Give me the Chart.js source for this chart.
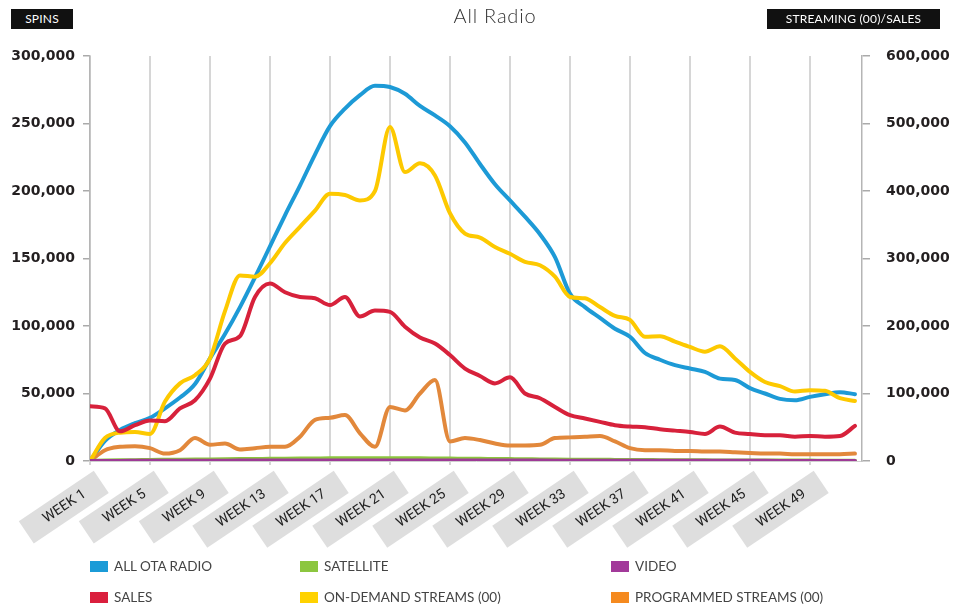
<!DOCTYPE html>
<html>
<head>
<meta charset="utf-8">
<script src="https://cdn.jsdelivr.net/npm/chart.js@4"></script>
<style>
  body { margin: 0; background: #fff; }
  #wrap { position: relative; width: 953px; height: 607px; font-family: Lato, "Open Sans", sans-serif; }
  #chart { position: absolute; left: 0; top: 0; }
  .tag { position: absolute; top: 9px; height: 20px; line-height: 20px; background: #111; color: #fff;
         font-size: 12px; text-align: center; letter-spacing: 0.2px; }
  #title { position: absolute; top: 3px; left: 0; width: 990px; text-align: center; font-size: 20px;
           font-weight: 300; color: #333; letter-spacing: 0.8px; }
  .leg { position: absolute; font-size: 13.5px; color: #444; height: 14px; line-height: 14px; white-space: nowrap; }
  .leg span { display: inline-block; width: 18px; height: 11px; margin-right: 6px; vertical-align: -1px; }
</style>
</head>
<body>
<div id="wrap">
  <canvas id="chart" width="953" height="607"></canvas>
  <div class="tag" style="left:11px;width:62px;">SPINS</div>
  <div id="title">All Radio</div>
  <div class="tag" style="left:767px;width:173px;">STREAMING (00)/SALES</div>
  <div id="legend"></div>
</div>
<script>
// weeks on the x axis
const weeks = [1, 2, 3, 4, 5, 6, 7, 8, 9, 10, 11, 12, 13, 14, 15, 16, 17, 18, 19, 20, 21, 22, 23, 24, 25, 26,
  27, 28, 29, 30, 31, 32, 33, 34, 35, 36, 37, 38, 39, 40, 41, 42, 43, 44, 45, 46, 47, 48, 49, 50, 51, 52];

// spins (left axis)
const allOtaRadio = [0, 15000, 23000, 28000, 32000, 39000, 47000, 57000, 76000, 94000, 114000, 136000, 159000,
  182000, 204000, 227000, 248000, 261000, 271000, 278000, 277000, 272000, 263000, 256000, 248000, 236000,
  220000, 205000, 193000, 181000, 168000, 151000, 124000, 114000, 106000, 98000, 92000, 80000, 75000, 71000,
  68500, 66000, 61000, 60000, 54000, 50000, 46000, 45000, 47500, 49500, 51000, 49500];
const satellite = [0, 300, 500, 600, 800, 900, 1000, 1100, 1200, 1300, 1400, 1500, 1600, 1700, 1800, 1900,
  2000, 2000, 2100, 2100, 2100, 2000, 2000, 1900, 1800, 1700, 1600, 1500, 1400, 1300, 1200, 1100, 1000, 900,
  900, 800, 700, 700, 600, 600, 500, 500, 400, 400, 400, 300, 300, 300, 300, 200, 200, 200];
const video = [0, 50, 80, 100, 120, 150, 180, 200, 220, 250, 280, 300, 320, 350, 380, 400, 420, 430, 450, 450,
  450, 440, 430, 420, 400, 380, 360, 340, 320, 300, 280, 260, 240, 220, 200, 190, 180, 170, 160, 150, 140,
  130, 120, 110, 100, 100, 90, 90, 80, 80, 80, 80];

// streaming (00) / sales (right axis)
const sales = [81000, 78000, 44000, 53000, 60000, 59000, 78000, 90000, 122000, 174000, 185000, 243000, 263000,
  250000, 243000, 241000, 231000, 243000, 214000, 223000, 221000, 199000, 183000, 174000, 157000, 137000,
  126000, 115000, 124000, 100000, 93000, 80000, 68000, 63000, 58000, 53000, 51000, 50000, 47000, 45000,
  43000, 40000, 51000, 42000, 40000, 38000, 38000, 36000, 37000, 36000, 37000, 52000];
const onDemand = [0, 34000, 42000, 43000, 40000, 88000, 115000, 127000, 152000, 222000, 275000, 273000, 293000,
  323000, 347000, 371000, 396000, 394000, 386000, 400000, 495000, 428000, 441000, 423000, 367000, 337000,
  331000, 317000, 307000, 295000, 290000, 273000, 243000, 241000, 228000, 215000, 209000, 184000, 185000,
  177000, 169000, 162000, 170000, 152000, 132000, 117000, 111000, 103000, 105000, 104000, 93000, 89000];
const programmed = [0, 16000, 21000, 22000, 19000, 11000, 16000, 34000, 24000, 26000, 17000, 19000, 21000,
  21000, 36000, 61000, 64000, 68000, 41000, 21000, 80000, 75000, 100000, 120000, 29000, 34000, 31000, 26000,
  23000, 23000, 24000, 34000, 35000, 36000, 37000, 29000, 19000, 16000, 16000, 15000, 15000, 14000, 14000,
  13000, 12000, 11000, 11000, 10000, 10000, 10000, 10000, 11000];

const labeledWeeks = [1, 5, 9, 13, 17, 21, 25, 29, 33, 37, 41, 45, 49];
const leftTicks = [0, 50000, 100000, 150000, 200000, 250000, 300000];
const rightTicks = [0, 100000, 200000, 300000, 400000, 500000, 600000];

const series = [
  { name: 'ALL OTA RADIO', values: allOtaRadio, color: '#1d9ad6', swatch: '#1b9bd7', axis: 'y', order: 6 },
  { name: 'SATELLITE', values: satellite, color: '#8cc63f', swatch: '#8cc63f', axis: 'y', order: 2 },
  { name: 'VIDEO', values: video, color: '#9e3a96', swatch: '#a2399a', axis: 'y', order: 1 },
  { name: 'SALES', values: sales, color: '#d7213b', swatch: '#da1f3d', axis: 'y1', order: 3 },
  { name: 'ON-DEMAND STREAMS (00)', values: onDemand, color: '#fdc900', swatch: '#ffd200', axis: 'y1', order: 4 },
  { name: 'PROGRAMMED STREAMS (00)', values: programmed, color: '#e2883b', swatch: '#f58a1f', axis: 'y1', order: 5 }
];

// html legend, 3 columns x 2 rows like the original
const legCols = [90, 300, 611];
const legRows = [559, 590];
const legend = document.getElementById('legend');
series.forEach((s, i) => {
  const d = document.createElement('div');
  d.className = 'leg';
  d.style.left = legCols[i % 3] + 'px';
  d.style.top = legRows[Math.floor(i / 3)] + 'px';
  d.innerHTML = '<span style="background:' + s.swatch + '"></span>' + s.name;
  legend.appendChild(d);
});

const fmt = v => Number(v).toLocaleString('en-US');
const tickFont = { family: '"DejaVu Sans", sans-serif', size: 14, weight: 'bold' };

new Chart(document.getElementById('chart'), {
  type: 'line',
  data: {
    datasets: series.map(s => ({
      label: s.name,
      data: weeks.map((w, i) => ({ x: w, y: s.values[i] })),
      borderColor: s.color,
      backgroundColor: s.color,
      borderWidth: 4,
      pointRadius: 0,
      cubicInterpolationMode: 'monotone',
      borderCapStyle: 'round',
      borderJoinStyle: 'round',
      yAxisID: s.axis,
      order: s.order
    }))
  },
  options: {
    responsive: false,
    animation: false,
    devicePixelRatio: 1,
    layout: { padding: { top: 56, left: 0, right: 0, bottom: 0 } },
    plugins: { legend: { display: false }, tooltip: { enabled: false } },
    scales: {
      x: {
        type: 'linear',
        min: 1,
        max: 52.47,
        afterBuildTicks: scale => { scale.ticks = labeledWeeks.map(v => ({ value: v })); },
        afterFit: scale => { scale.height = 146; },
        grid: { color: '#d6d6d6', lineWidth: 2, tickLength: 4 },
        border: { display: true, color: '#cfcfcf' },
        ticks: {
          autoSkip: false,
          minRotation: 34,
          maxRotation: 34,
          padding: 21,
          labelOffset: -10,
          showLabelBackdrop: true,
          backdropColor: '#dedede',
          backdropPadding: { top: 5, bottom: 5, left: 22, right: 20 },
          color: '#222',
          font: { family: 'Roboto, sans-serif', size: 14 },
          callback: v => 'WEEK ' + v
        }
      },
      y: {
        position: 'left',
        min: 0,
        max: 300000,
        afterBuildTicks: scale => { scale.ticks = leftTicks.map(v => ({ value: v })); },
        afterFit: scale => { scale.width = 90; },
        grid: { drawOnChartArea: false, color: '#aaa', lineWidth: 1.5, tickLength: 7 },
        border: { color: '#b5b5b5', width: 1.5 },
        ticks: { padding: 8, color: '#231f20', font: tickFont, callback: fmt }
      },
      y1: {
        position: 'right',
        min: 0,
        max: 600000,
        afterBuildTicks: scale => { scale.ticks = rightTicks.map(v => ({ value: v })); },
        afterFit: scale => { scale.width = 91; },
        grid: { drawOnChartArea: false, color: '#aaa', lineWidth: 1.5, tickLength: 8 },
        border: { color: '#b5b5b5', width: 1.5 },
        ticks: { padding: 16, color: '#231f20', font: tickFont, callback: fmt }
      }
    }
  }
});
</script>
</body>
</html>
